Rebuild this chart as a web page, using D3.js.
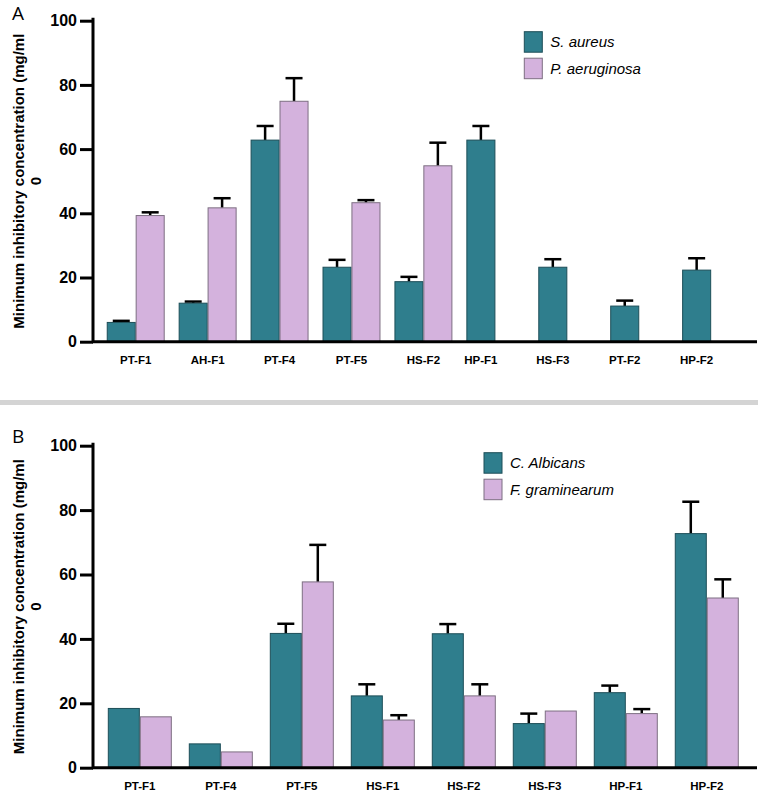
<!DOCTYPE html>
<html>
<head>
<meta charset="utf-8">
<script src="https://cdn.jsdelivr.net/npm/d3@7"></script>
<style>
  html, body { margin: 0; padding: 0; background: #fff; }
  svg { display: block; }
</style>
</head>
<body>
<svg id="chart" width="767" height="798"></svg>
<script>
// ---------- DATA ----------
const catsA = ["PT-F1", "AH-F1", "PT-F4", "PT-F5", "HS-F2", "HP-F1", "HS-F3", "PT-F2", "HP-F2"];
const sAureus = [6.0, 12.0, 62.8, 23.2, 18.7, 62.8, 23.2, 11.1, 22.3];
const sAureusErr = [0.5, 0.5, 4.4, 2.3, 1.5, 4.4, 2.5, 1.7, 3.7];
const pAeruginosa = [39.3, 41.7, 74.9, 43.3, 54.8, null, null, null, null];
const pAeruginosaErr = [1.0, 3.0, 7.2, 0.8, 7.2, null, null, null, null];
const seriesA = ["S. aureus", "P. aeruginosa"];

const catsB = ["PT-F1", "PT-F4", "PT-F5", "HS-F1", "HS-F2", "HS-F3", "HP-F1", "HP-F2"];
const cAlbicans = [18.4, 7.4, 41.7, 22.3, 41.6, 13.7, 23.3, 72.7];
const cAlbicansErr = [0, 0, 3.0, 3.6, 3.0, 3.1, 2.2, 9.9];
const fGraminearum = [15.8, 4.9, 57.7, 14.8, 22.3, 17.6, 16.8, 52.7];
const fGraminearumErr = [0, 0, 11.5, 1.5, 3.6, 0, 1.4, 5.8];
const seriesB = ["C. Albicans", "F. graminearum"];

const yTicks = [0, 20, 40, 60, 80, 100];
const yLabel1 = "Minimum inhibitory concentration (mg/ml";
const yLabel2 = "0";

// ---------- STYLE ----------
const colors = ["#2f7e8d", "#d4b2dd"];
const strokes = ["#1d4e58", "#7d6f82"];
const font = "'Liberation Sans', Arial, Helvetica, sans-serif";

const svg = d3.select("#chart");

// separator
svg.append("rect").attr("x", 0).attr("y", 400).attr("width", 758).attr("height", 5)
  .attr("fill", "#d4d4d4");

function panel(opts) {
  const { cats, vals, errs, series, top, bottom, letterY, legendX, legendY,
          padIn, padOut, align } = opts;
  const g = svg.append("g");
  const xLeft = 93, xRight = 757;

  const y = d3.scaleLinear().domain([0, 100]).range([bottom, top]);
  const x0 = d3.scaleBand().domain(cats).range([xLeft, xRight])
    .paddingInner(padIn).paddingOuter(padOut).align(align);
  const x1 = d3.scaleBand().domain([0, 1]).range([0, x0.bandwidth()]).paddingInner(0.03);

  // bars
  const data = [];
  cats.forEach((c, i) => {
    [0, 1].forEach(s => {
      const v = vals[s][i];
      if (v != null) data.push({ c, s, v, e: errs[s][i] });
    });
  });

  // error bars (drawn beneath bars so the line starts at bar top)
  const capW = 17;
  data.filter(d => d.e && d.e > 0).forEach(d => {
    const cx = x0(d.c) + x1(d.s) + x1.bandwidth() / 2;
    g.append("line").attr("x1", cx).attr("x2", cx)
      .attr("y1", y(d.v)).attr("y2", y(d.v + d.e))
      .attr("stroke", "#000").attr("stroke-width", 2.5);
    g.append("line").attr("x1", cx - capW / 2).attr("x2", cx + capW / 2)
      .attr("y1", y(d.v + d.e)).attr("y2", y(d.v + d.e))
      .attr("stroke", "#000").attr("stroke-width", 2.5);
  });

  g.selectAll("rect.bar").data(data).join("rect")
    .attr("class", "bar")
    .attr("x", d => x0(d.c) + x1(d.s))
    .attr("width", x1.bandwidth())
    .attr("y", d => y(d.v))
    .attr("height", d => y(0) - y(d.v))
    .attr("fill", d => colors[d.s])
    .attr("stroke", d => strokes[d.s])
    .attr("stroke-width", 1);

  // y axis
  const ya = g.append("g").attr("transform", `translate(${xLeft},0)`)
    .call(d3.axisLeft(y).tickValues(yTicks).tickSize(13).tickSizeOuter(0).tickPadding(3));
  ya.select(".domain").attr("stroke-width", 3).attr("d", `M0,${top - 3}V${bottom}`);
  ya.selectAll(".tick line").attr("stroke-width", 3);
  ya.selectAll(".tick text").attr("font-family", font).attr("font-size", 16)
    .attr("font-weight", "bold").attr("fill", "#000");

  // x axis line
  g.append("line").attr("x1", xLeft - 1).attr("x2", xRight).attr("y1", y(0)).attr("y2", y(0))
    .attr("stroke", "#000").attr("stroke-width", 3);

  // x labels centered on present bars
  cats.forEach((c, i) => {
    const present = [0, 1].filter(s => vals[s][i] != null);
    const xs = present.map(s => x0(c) + x1(s) + x1.bandwidth() / 2);
    const cx = d3.mean(xs);
    g.append("text").attr("x", cx).attr("y", bottom + 22)
      .attr("text-anchor", "middle").attr("font-family", font)
      .attr("font-size", 11.5).attr("font-weight", "bold").text(c);
  });

  // y label
  const midY = (top + bottom) / 2;
  g.append("text").attr("transform", `translate(24,${midY}) rotate(-90)`)
    .attr("text-anchor", "middle").attr("font-family", font).attr("font-size", 15)
    .attr("font-weight", "bold").text(yLabel1);
  g.append("text").attr("transform", `translate(40.5,${midY}) rotate(-90)`)
    .attr("text-anchor", "middle").attr("font-family", font).attr("font-size", 15)
    .attr("font-weight", "bold").text(yLabel2);

  // panel letter
  g.append("text").attr("x", 12).attr("y", letterY)
    .attr("font-family", "'Open Sans', sans-serif").attr("font-size", 19)
    .text(opts.letter);

  // legend
  series.forEach((s, i) => {
    const ly = legendY + i * 26.5;
    g.append("rect").attr("x", legendX).attr("y", ly).attr("width", 18).attr("height", 20.5)
      .attr("fill", colors[i]).attr("stroke", strokes[i]).attr("stroke-width", 1);
    g.append("text").attr("x", legendX + 26).attr("y", ly + 15.5)
      .attr("font-family", font).attr("font-style", "italic").attr("font-size", 15)
      .text(s);
  });
}

panel({
  letter: "A", letterY: 20,
  cats: catsA, vals: [sAureus, pAeruginosa], errs: [sAureusErr, pAeruginosaErr],
  series: seriesA, top: 20.7, bottom: 341.7,
  legendX: 524.3, legendY: 31.7,
  padIn: 0.208, padOut: 0.22, align: 0.45
});

panel({
  letter: "B", letterY: 443,
  cats: catsB, vals: [cAlbicans, fGraminearum], errs: [cAlbicansErr, fGraminearumErr],
  series: seriesB, top: 445.7, bottom: 767.7,
  legendX: 484, legendY: 452.7,
  padIn: 0.222, padOut: 0.21, align: 0.45
});
</script>
</body>
</html>
